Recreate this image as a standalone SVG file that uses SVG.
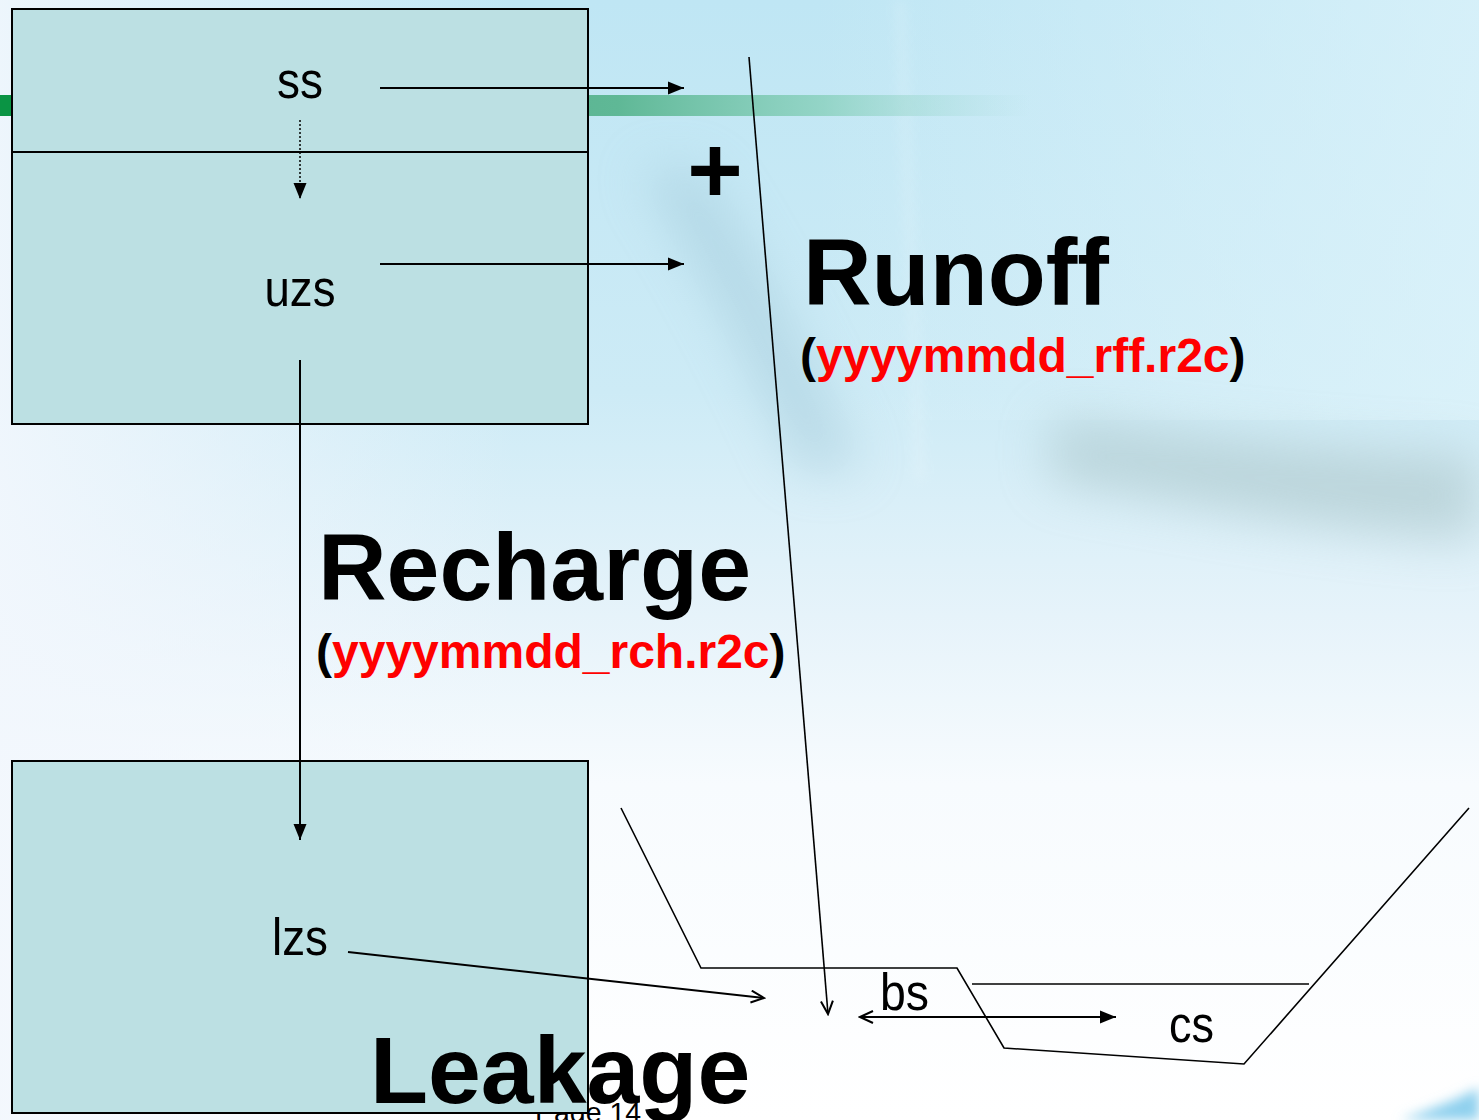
<svg xmlns="http://www.w3.org/2000/svg" width="1479" height="1120" viewBox="0 0 1479 1120">
<defs>
  <linearGradient id="bgv" x1="0" y1="0" x2="0" y2="1">
    <stop offset="0" stop-color="#bfe6f4"/>
    <stop offset="0.35" stop-color="#cdebf6"/>
    <stop offset="0.55" stop-color="#e6f3fa"/>
    <stop offset="0.7" stop-color="#f7fbfe"/>
    <stop offset="1" stop-color="#ffffff"/>
  </linearGradient>
  <linearGradient id="bgh" x1="0" y1="0" x2="1" y2="0">
    <stop offset="0" stop-color="#f2f7fd" stop-opacity="0.9"/>
    <stop offset="0.35" stop-color="#f2f7fd" stop-opacity="0"/>
  </linearGradient>
  <linearGradient id="bgr" x1="0" y1="0" x2="1" y2="0">
    <stop offset="0.55" stop-color="#dff4fb" stop-opacity="0"/>
    <stop offset="1" stop-color="#dff4fb" stop-opacity="0.7"/>
  </linearGradient>
  <linearGradient id="band" x1="0" y1="0" x2="1" y2="0">
    <stop offset="0" stop-color="#3f9f78"/>
    <stop offset="0.6" stop-color="#5fb896"/>
    <stop offset="0.8" stop-color="#88d0bc" stop-opacity="0.8"/>
    <stop offset="1" stop-color="#a8dcd8" stop-opacity="0"/>
  </linearGradient>
  <filter id="blur" x="-50%" y="-50%" width="200%" height="200%">
    <feGaussianBlur stdDeviation="25"/>
  </filter>
  <filter id="blur2" x="-50%" y="-50%" width="200%" height="200%">
    <feGaussianBlur stdDeviation="6"/>
  </filter>
  <marker id="tri" markerUnits="userSpaceOnUse" markerWidth="17" markerHeight="14" refX="16" refY="7" orient="auto-start-reverse">
    <path d="M0,0.5 L16,7 L0,13.5 z" fill="#000"/>
  </marker>
  <marker id="vee" markerUnits="userSpaceOnUse" markerWidth="16" markerHeight="14" refX="14" refY="7" orient="auto-start-reverse">
    <path d="M1,1 L14,7 L1,13" fill="none" stroke="#000" stroke-width="2"/>
  </marker>
  <style>
    .box { fill: #bce0e3; stroke: #000; stroke-width: 2; }
    .lbl { font-family: "Liberation Sans", Arial, sans-serif; font-size: 52px; fill: #000; }
    .big { font-family: "Liberation Sans", Arial, sans-serif; font-weight: bold; font-size: 95px; fill: #000; }
    .file { font-family: "Liberation Sans", Arial, sans-serif; font-weight: bold; font-size: 48px; fill: #000; }
    .red { fill: #ff0000; }
    .ln { stroke: #000; stroke-width: 2; fill: none; }
    .thin { stroke: #000; stroke-width: 1.6; fill: none; }
  </style>
</defs>

<!-- background -->
<g id="background">
  <rect x="0" y="0" width="1479" height="1120" fill="url(#bgv)"/>
  <rect x="0" y="0" width="1479" height="1120" fill="url(#bgh)"/>
  <rect x="0" y="0" width="1479" height="420" fill="url(#bgr)"/>
  <path d="M640,170 C700,260 760,380 800,470 L860,470 C820,380 760,260 700,170 z" fill="#9fc6d6" opacity="0.5" filter="url(#blur)"/>
  <path d="M1050,420 C1180,430 1300,450 1479,455 L1479,540 C1300,530 1180,500 1050,480 z" fill="#a9c4c8" opacity="0.6" filter="url(#blur)"/>
  <path d="M895,0 L905,0 L925,480 L915,480 z" fill="#ffffff" opacity="0.15" filter="url(#blur2)"/>
  <rect x="0" y="95" width="1030" height="21" fill="url(#band)"/>
  <rect x="0" y="95" width="12" height="21" fill="#0a9444"/>
  <path d="M1400,1120 C1430,1110 1460,1098 1479,1088 L1479,1120 z" fill="#8fd0ee" filter="url(#blur2)"/>
</g>

<!-- page number (behind box) -->
<text x="535" y="1122" font-family="Liberation Sans, Arial, sans-serif" font-size="28.5" fill="#000">Page 14</text>

<!-- nodes -->
<g id="top-store">
  <rect class="box" x="12" y="9" width="576" height="415"/>
  <line x1="12" y1="152" x2="588" y2="152" stroke="#000" stroke-width="2"/>
</g>
<g id="ss">
  <text class="lbl" x="300" y="98" text-anchor="middle" textLength="46" lengthAdjust="spacingAndGlyphs">ss</text>
</g>
<g id="uzs">
  <text class="lbl" x="300" y="306" text-anchor="middle" textLength="71" lengthAdjust="spacingAndGlyphs">uzs</text>
</g>
<g id="lower-store">
  <rect class="box" x="12" y="761" width="576" height="352"/>
</g>
<g id="lzs">
  <text class="lbl" x="300" y="955" text-anchor="middle" textLength="56" lengthAdjust="spacingAndGlyphs">lzs</text>
</g>

<g id="channel">
  <polyline class="thin" points="621,808 701,968 957,968 1004,1048 1244,1064 1469,808"/>
  <line class="thin" x1="972" y1="984" x2="1309" y2="984"/>
</g>
<g id="bs">
  <text class="lbl" x="880" y="1010" textLength="49" lengthAdjust="spacingAndGlyphs">bs</text>
</g>
<g id="cs">
  <text class="lbl" x="1169" y="1042" textLength="45" lengthAdjust="spacingAndGlyphs">cs</text>
</g>

<!-- connectors -->
<g id="connectors">
  <line class="ln" x1="380" y1="88" x2="684" y2="88" marker-end="url(#tri)"/>
  <line class="ln" x1="380" y1="264" x2="684" y2="264" marker-end="url(#tri)"/>
  <line x1="300" y1="120" x2="300" y2="199" stroke="#000" stroke-width="1.5" stroke-dasharray="2,2" marker-end="url(#tri)"/>
  <line class="ln" x1="300" y1="360" x2="300" y2="840" marker-end="url(#tri)"/>
  <line class="ln" x1="348" y1="952" x2="764" y2="998" marker-end="url(#vee)"/>
  <line class="thin" x1="749" y1="57" x2="828" y2="1014" marker-end="url(#vee)"/>
  <line class="ln" x1="860" y1="1017" x2="1116" y2="1017" marker-start="url(#vee)" marker-end="url(#tri)"/>
</g>

<!-- labels -->
<g id="labels">
  <text class="big" x="715" y="202" text-anchor="middle" font-size="92">+</text>
  <text class="big" x="803" y="305">Runoff</text>
  <text class="file" x="800" y="372">(<tspan class="red">yyyymmdd_rff.r2c</tspan>)</text>
  <text class="big" x="318" y="600">Recharge</text>
  <text class="file" x="316" y="668">(<tspan class="red">yyyymmdd_rch.r2c</tspan>)</text>
  <text class="big" x="370" y="1103">Leakage</text>
</g>
</svg>
